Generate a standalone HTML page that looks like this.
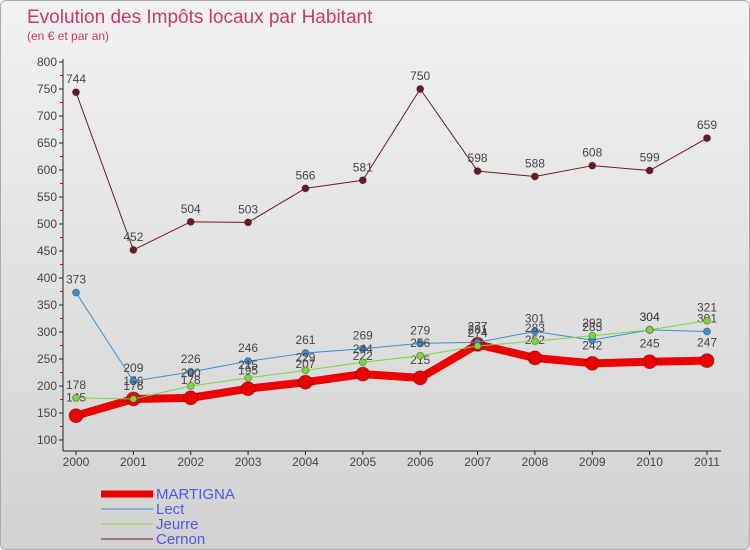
<!DOCTYPE html>
<html><head><meta charset="utf-8"><style>
body{margin:0;width:750px;height:550px;overflow:hidden;font-family:"Liberation Sans",sans-serif}
#frame{position:absolute;left:0;top:0;width:748px;height:548px;border:1px solid #aaa;border-radius:6px;background:linear-gradient(#f2f2f2,#d2d2d2);overflow:hidden}
</style></head><body>
<div id="frame">
<svg id="chart" width="750" height="550" style="position:absolute;left:0;top:0">
<text x="26" y="22" font-size="19" fill="#c8386e">Evolution des Impôts locaux par Habitant</text>
<text x="26" y="39" font-size="12" fill="#c8386e">(en € et par an)</text>
</svg>
</div>
<script>
const years=["2000","2001","2002","2003","2004","2005","2006","2007","2008","2009","2010","2011"];
const martigna=[145,176,178,195,207,222,215,277,252,242,245,247];
const lect=[373,209,226,246,261,269,279,281,301,285,304,301];
const jeurre=[178,176,200,215,229,244,256,274,283,293,304,321];
const cernon=[744,452,504,503,566,581,750,598,588,608,599,659];
const yTicks=[100,150,200,250,300,350,400,450,500,550,600,650,700,750,800];
const NS="http://www.w3.org/2000/svg";
const svg=document.getElementById('chart');
const X=i=>75+i*(706-75)/11;
const Y=v=>439-(v-100)*(439-61)/700;
function mk(t,a,parent){const e=document.createElementNS(NS,t);for(const k in a)e.setAttribute(k,a[k]);(parent||svg).appendChild(e);return e;}
const ax=mk('g',{});


const yl=mk('line',{x1:62,y1:58,x2:62,y2:450,stroke:'#222','stroke-width':1},ax);


yTicks.forEach(v=>{
 const t=mk('line',{x1:58,y1:Y(v),x2:62,y2:Y(v),stroke:'#222'},ax);
 
 
 const l=mk('text',{x:56,y:Y(v)+4,'font-size':12,fill:'#444','text-anchor':'end'},ax);l.textContent=v;
 
 
 if(v<800){const m=mk('line',{x1:59,y1:Y(v+25),x2:62,y2:Y(v+25),stroke:'#e00'},ax);
 
 }
});
const xl=mk('line',{x1:62,y1:450,x2:720,y2:450,stroke:'#222'},ax);


years.forEach((y,i)=>{
 const t=mk('line',{x1:X(i),y1:450,x2:X(i),y2:454,stroke:'#222'},ax);
 
 
 const l=mk('text',{x:X(i),y:465,'font-size':12,fill:'#444','text-anchor':'middle'},ax);l.textContent=y;
 
 
});
function series(name,data,color,w,r,labelDy){
 const g=mk('g',{});
 
 
 const p=mk('polyline',{points:data.map((v,i)=>X(i)+','+Y(v)).join(' '),fill:'none',stroke:color,'stroke-width':w,'stroke-linejoin':'round'},g);
 
 
 data.forEach((v,i)=>{
  const c=mk('circle',{cx:X(i),cy:Y(v),r:r,fill:color,stroke:'rgba(0,0,0,0.3)','stroke-width':1},g);
  
  
  const t=mk('text',{x:X(i),y:Y(v)+labelDy,'font-size':12,fill:'#444','text-anchor':'middle'},g);t.textContent=v;
  
  
 });
}
series('cernon',cernon,'#6b1a22',1,3.5,-9);
series('martigna',martigna,'#ee0000',8,7,-14);
series('lect',lect,'#3a8ed0',1,3.5,-9);
series('jeurre',jeurre,'#7ed53f',1,3.5,-9);
const legend=[['MARTIGNA','#ee0000',7],['Lect','#3a8ed0',1],['Jeurre','#7ed53f',1],['Cernon','#6b1a22',1]];
legend.forEach((e,i)=>{
 const y=493+i*15;
 const g=mk('g',{});
 
 
 mk('line',{x1:100,y1:y,x2:152,y2:y,stroke:e[1],'stroke-width':e[2]},g);
 const t=mk('text',{x:155,y:y+5,'font-size':15,fill:'#4a5ae0'},g);t.textContent=e[0];
});
</script>
</body></html>
